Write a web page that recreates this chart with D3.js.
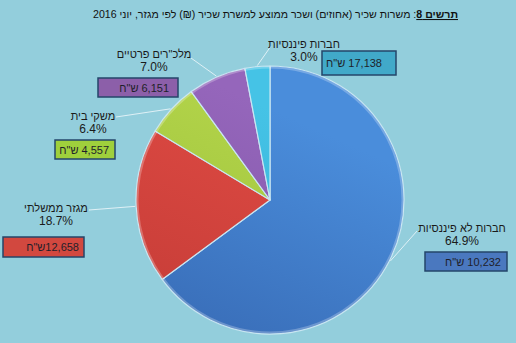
<!DOCTYPE html>
<html><head><meta charset="utf-8">
<script src="https://cdn.jsdelivr.net/npm/d3@7/dist/d3.min.js"></script>
<style>
html,body{margin:0;padding:0;background:#93cedc;}
svg{display:block;font-family:"Liberation Sans",Arial,"DejaVu Sans",sans-serif;}
</style></head>
<body>
<svg id="chart" width="516" height="343"></svg>
<script>
// ---- data ----
const sectors = ["חברות לא פיננסיות", "מגזר ממשלתי", "משקי בית", "מלכ\"רים פרטיים", "חברות פיננסיות"];
const shares = [64.9, 18.7, 6.4, 7.0, 3.0];
const wages = ["10,232", "12,658", "4,557", "6,151", "17,138"];
const wageSpace = ["  ", "", " ", " ", "  "];
const titleBold = "תרשים 8";
const titleRest = ": משרות שכיר (אחוזים) ושכר ממוצע למשרת שכיר (₪) לפי מגזר, יוני  2016";

// ---- styles / layout ----
const sliceTop = ["#4a8ddb", "#de4a43", "#b3d44a", "#9566bb", "#45c3e6"];
const sliceBot = ["#3566b0", "#c13a35", "#95bb36", "#7b52a3", "#2fa9d0"];
const boxFill = ["#4a78bf", "#d2483f", "#9fd03c", "#8c5fa9", "#41a9c9"];
// label centres (name baseline), leader end, box rect, box text right edge
const labelPos = [
  {x: 462, y: 232, lx: 417, ly: 231, box: [425, 252, 82, 19], tx: 501},
  {x: 56,  y: 212, lx: 89,  ly: 210, box: [3, 237, 81, 20], tx: 79},
  {x: 93,  y: 120, lx: 116, ly: 117, box: [55, 140, 60, 19], tx: 109},
  {x: 154, y: 58,  lx: 191, ly: 58,  box: [98, 78, 80, 19], tx: 169},
  {x: 304, y: 48,  lx: 271, ly: 46,  box: [322, 51, 74, 24], tx: 382}
];

const svg = d3.select("#chart");
const cx = 270, cy = 200, R = 134;

// title
const title = svg.append("text")
  .attr("x", 458).attr("y", 18)
  .attr("direction", "rtl").attr("text-anchor", "start")
  .style("font-size", "10.6px").attr("fill", "#111");
title.append("tspan").text(titleBold).style("font-weight", "bold").style("text-decoration", "underline");
title.append("tspan").text(titleRest);

// gradients
const defs = svg.append("defs");
sectors.forEach((s, i) => {
  const g = defs.append("linearGradient").attr("id", "g" + i)
    .attr("gradientUnits", "userSpaceOnUse")
    .attr("x1", cx + R * 0.6).attr("y1", cy - R).attr("x2", cx - R * 0.3).attr("y2", cy + R);
  g.append("stop").attr("offset", "0%").attr("stop-color", sliceTop[i]);
  g.append("stop").attr("offset", "100%").attr("stop-color", sliceBot[i]);
});

const pie = d3.pie().sort(null).value(d => d)(shares);
const arc = d3.arc().innerRadius(0).outerRadius(R);
const g = svg.append("g").attr("transform", `translate(${cx},${cy})`);
g.selectAll("path").data(pie).join("path")
  .attr("d", arc)
  .attr("fill", (d, i) => `url(#g${i})`)
  .attr("stroke", "#c9e6f2").attr("stroke-width", 1.2).attr("stroke-linejoin", "round");

// subtle outer rim
g.append("circle").attr("r", R - 1.5).attr("fill", "none")
  .attr("stroke", "rgba(255,255,255,0.25)").attr("stroke-width", 2);

// leader lines
pie.forEach((d, i) => {
  const a = (d.startAngle + d.endAngle) / 2;
  const r0 = R + 1;
  const x0 = cx + r0 * Math.sin(a), y0 = cy - r0 * Math.cos(a);
  const p = labelPos[i];
  svg.append("line").attr("x1", x0).attr("y1", y0).attr("x2", p.lx).attr("y2", p.ly)
    .attr("stroke", "#e8f4f8").attr("stroke-width", 0.9);
});

// labels
sectors.forEach((s, i) => {
  const p = labelPos[i];
  svg.append("text").attr("x", p.x).attr("y", p.y)
    .attr("text-anchor", "middle").attr("direction", "rtl")
    .style("font-size", "11px").attr("fill", "#1a1a1a").text(s);
  svg.append("text").attr("x", p.x).attr("y", p.y + 13)
    .attr("text-anchor", "middle")
    .style("font-size", "12px").attr("fill", "#1a1a1a").text(d3.format(".1f")(shares[i]) + "%");
  const b = p.box;
  svg.append("rect").attr("x", b[0]).attr("y", b[1]).attr("width", b[2]).attr("height", b[3])
    .attr("fill", boxFill[i]).attr("stroke", "#24466a").attr("stroke-width", 1.5);
  svg.append("text").attr("x", p.tx).attr("y", b[1] + b[3] / 2 + 4)
    .attr("direction", "rtl").attr("text-anchor", "start")
    .style("font-size", "11px").attr("fill", "#1f1f2a")
    .text(wages[i] + wageSpace[i] + "ש\"ח");
});
</script>
</body></html>
